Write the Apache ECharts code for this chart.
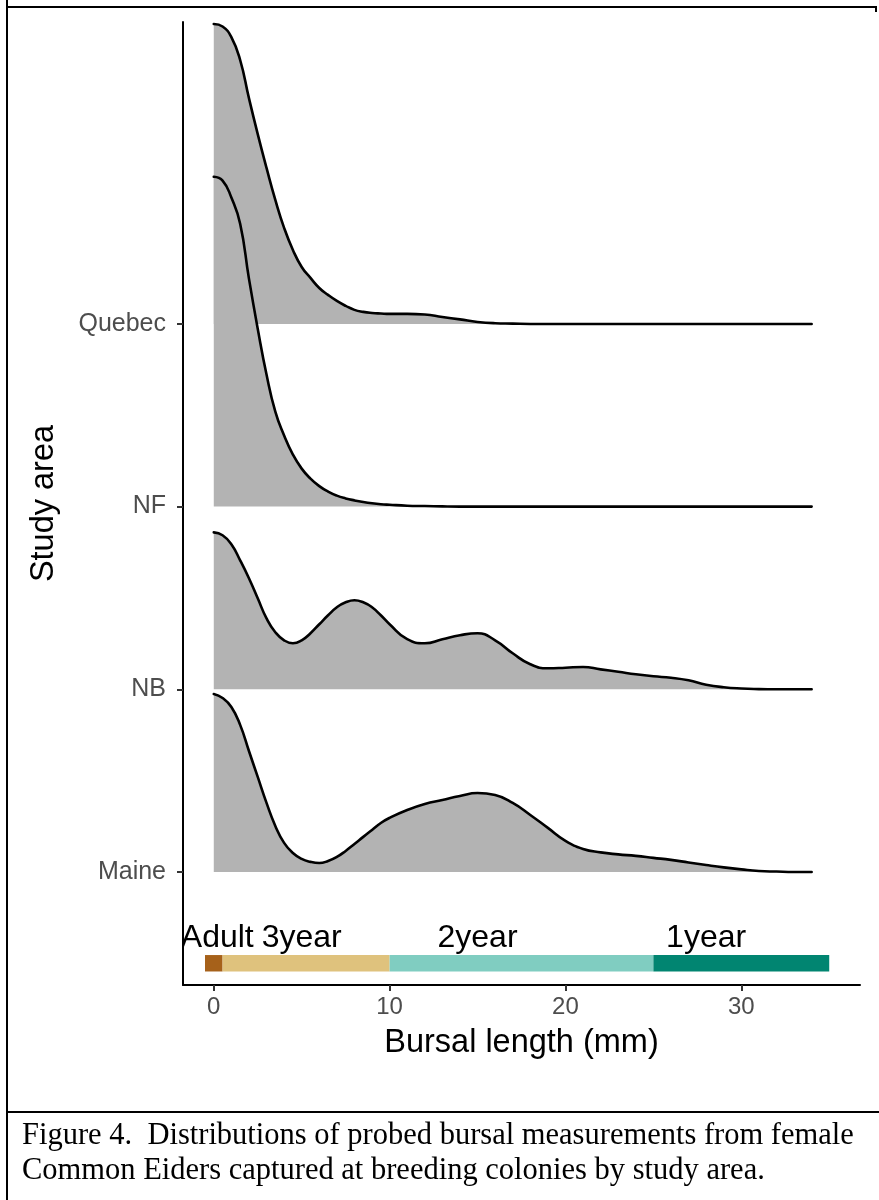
<!DOCTYPE html>
<html>
<head>
<meta charset="utf-8">
<script src="https://cdn.jsdelivr.net/npm/echarts@6/dist/echarts.min.js"></script>
<style>
  html, body { margin: 0; padding: 0; background: #ffffff; }
  #chart { width: 879px; height: 1200px; }
</style>
</head>
<body>
<div id="chart"></div>
<script>
// ---- Data ----
// Bursal length grid (mm) at which the ridge heights were read
var bursalLength = [0,0.5,1,1.5,2,2.5,3,3.5,4,4.5,5,5.5,6,6.5,7,7.5,8,8.5,9,9.5,10,
  11,12,13,14,15,16,17,18,19,20,21,22,23,24,25,26,27,28,29,30,31,32,33,34];

// Study areas (bottom to top) and their ridge baselines on the y scale
var studyAreas = ['Maine', 'NB', 'NF', 'Quebec'];
var areaBaselines = [1, 2, 3, 4];

// Ridge heights, in % of the spacing between two study-area baselines
var quebecDensity = [164.2,162.8,157.0,144.5,123.6,103.9,85.4,67.9,52.6,40.5,31.2,25.2,19.7,15.9,12.6,9.9,7.7,6.6,6.0,5.7,5.5,
  5.5,5.2,3.8,2.5,1.1,0.4,0.2,0,0,0,0,0,0,0,0,0,0,0,0,0,0,0,0,0];
var nfDensity = [180.6,178.5,169.2,154.9,124.8,97.4,72.3,52.0,38.9,28.5,20.8,15.3,11.2,8.2,6.0,4.5,3.4,2.5,1.8,1.3,1.0,
  0.5,0.3,0.1,0,0,0,0,0,0,0,0,0,0,0,0,0,0,0,0,0,0,0,0,0];
var nbDensity = [85.9,84.3,79.4,70.6,60.8,49.8,38.8,31.2,26.8,25.2,26.8,30.7,35.6,40.5,44.9,47.6,48.7,47.6,44.9,40.5,35.6,
  27.4,25.2,27.4,29.6,30.7,26.8,19.7,13.7,11.5,11.8,12.2,10.9,9.6,8.2,7.1,6.3,4.9,2.5,1.1,0.4,0.1,0,0,0];
var maineDensity = [97.4,95.2,90.3,80.5,66.2,52.0,37.8,25.2,15.9,10.4,7.1,5.5,4.9,6.0,8.2,11.5,15.3,19.2,23.0,26.8,29.6,
  33.9,37.2,39.4,41.6,43.2,42.1,37.8,31.2,24.1,17.0,12.6,10.7,9.6,8.8,7.7,6.6,5.2,3.8,2.5,1.4,0.5,0.2,0,0];

// Age classes shown in the band under the ridges
var ageClasses = ['Adult', '3year', '2year', '1year'];
var ageStart = [-0.5, 0.5, 10, 25];
var ageEnd = [0.5, 10, 25, 35];
var ageLabelX = [0.2, 5, 15, 28];
var ageColors = ['#a6611a', '#dfc27d', '#80cdc1', '#018571'];
var bandLow = 0.455, bandHigh = 0.545, bandLabelY = 0.64;

// Axis ticks
var xTicks = [0, 10, 20, 30];

var densities = { 'Maine': maineDensity, 'NB': nbDensity, 'NF': nfDensity, 'Quebec': quebecDensity };

// ---- Build options ----
var chart = echarts.init(document.getElementById('chart'), null, { renderer: 'canvas' });
var FONT = 'Liberation Sans, Arial, sans-serif';

var series = [];
// draw top ridge first so lower ridges overlap it
for (var k = studyAreas.length - 1; k >= 0; k--) {
  var name = studyAreas[k];
  var base = areaBaselines[k];
  var dens = densities[name];
  var pts = bursalLength.map(function (x, i) { return [x, base + dens[i] / 100]; });
  series.push({
    type: 'line',
    name: name,
    data: pts,
    smooth: 0.5,
    symbol: 'none',
    silent: true,
    lineStyle: { color: '#000000', width: 2.6, cap: 'round', join: 'round' },
    areaStyle: { color: '#b3b3b3', opacity: 1, origin: base },
    z: 2
  });
}

var bandData = ageClasses.map(function (c, i) { return [ageStart[i], ageEnd[i], ageLabelX[i], i]; });
series.push({
  type: 'custom',
  name: 'age classes',
  data: bandData,
  clip: true,
  silent: true,
  z: 3,
  renderItem: function (params, api) {
    var i = api.value(3);
    var p0 = api.coord([api.value(0), bandHigh]);
    var p1 = api.coord([api.value(1), bandLow]);
    var pl = api.coord([api.value(2), bandLabelY]);
    return {
      type: 'group',
      children: [
        {
          type: 'rect',
          shape: { x: p0[0], y: p0[1], width: p1[0] - p0[0], height: p1[1] - p0[1] },
          style: { fill: ageColors[i] }
        },
        {
          type: 'text',
          x: pl[0], y: pl[1],
          style: {
            text: ageClasses[i], fill: '#000000',
            font: '32px ' + FONT, align: 'center', verticalAlign: 'middle'
          }
        }
      ]
    };
  }
});

var option = {
  backgroundColor: '#ffffff',
  animation: false,
  grid: { left: 183, right: 19, top: 22, bottom: 215, containLabel: false },
  xAxis: {
    type: 'value',
    min: -1.75, max: 36.75,
    name: 'Bursal length (mm)',
    nameLocation: 'middle',
    nameGap: 42,
    nameTextStyle: { fontFamily: FONT, fontSize: 32.5, color: '#000000' },
    axisLine: { show: true, onZero: false, lineStyle: { color: '#000000', width: 2 } },
    axisTick: { show: true, length: 6, customValues: xTicks, lineStyle: { color: '#333333', width: 2 } },
    axisLabel: { customValues: xTicks, margin: 10, fontFamily: FONT, fontSize: 24, color: '#4d4d4d' },
    splitLine: { show: false }
  },
  yAxis: {
    type: 'value',
    min: 0.381, max: 5.653,
    name: 'Study area',
    nameLocation: 'middle',
    nameGap: 122,
    nameRotate: 90,
    nameTextStyle: { fontFamily: FONT, fontSize: 32.5, color: '#000000' },
    axisLine: { show: true, onZero: false, lineStyle: { color: '#000000', width: 2 } },
    axisTick: { show: true, length: 6, customValues: areaBaselines, lineStyle: { color: '#333333', width: 2 } },
    axisLabel: {
      customValues: areaBaselines, margin: 17, fontFamily: FONT, fontSize: 25, color: '#4d4d4d',
      formatter: function (v) { return studyAreas[Math.round(v) - 1]; }
    },
    splitLine: { show: false }
  },
  graphic: [
    { type: 'line', shape: { x1: 7, y1: 0, x2: 7, y2: 1200 }, style: { stroke: '#000', lineWidth: 2 } },
    { type: 'line', shape: { x1: 6, y1: 7, x2: 877, y2: 7 }, style: { stroke: '#000', lineWidth: 2 } },
    { type: 'line', shape: { x1: 876, y1: 6, x2: 876, y2: 12 }, style: { stroke: '#000', lineWidth: 2 } },
    { type: 'line', shape: { x1: 6, y1: 1112, x2: 879, y2: 1112 }, style: { stroke: '#000', lineWidth: 2 } },
    { type: 'text', x: 22, y: 1136, style: { text: 'Figure 4.  Distributions of probed bursal measurements from female', font: '30.5px Liberation Serif, Times New Roman, serif', fill: '#000', verticalAlign: 'middle' } },
    { type: 'text', x: 22, y: 1171, style: { text: 'Common Eiders captured at breeding colonies by study area.', font: '30.5px Liberation Serif, Times New Roman, serif', fill: '#000', verticalAlign: 'middle' } }
  ],
  series: series
};
chart.setOption(option);
</script>
</body>
</html>
